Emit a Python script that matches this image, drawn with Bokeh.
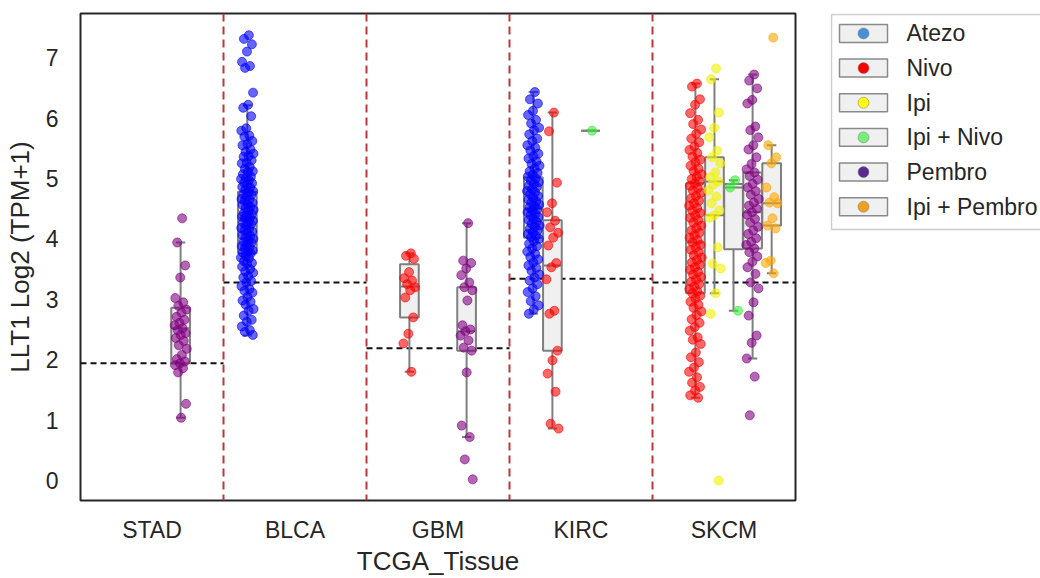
import numpy as np
from bokeh.plotting import figure
from bokeh.layouts import row
from bokeh.models import ColumnDataSource, Span, FixedTicker, Range1d
from bokeh.core.properties import value
from bokeh.embed import file_html
from bokeh.resources import INLINE

# ---------------- data ----------------
tissues = ["STAD", "BLCA", "GBM", "KIRC", "SKCM"]
drugs = ["Atezo", "Nivo", "Ipi", "Ipi + Nivo", "Pembro", "Ipi + Pembro"]
point_colors = ["#0000ff", "#ff0000", "#f2f200", "#33ee33", "#800080", "#ffa500"]
legend_colors = ["#4a90d9", "#ff0000", "#ffff00", "#77ee77", "#5b2a8e", "#f0a020"]

# TCGA reference level per tissue (black dashed lines)
tcga_ref = [1.94, 3.28, 2.19, 3.34, 3.28]

stad_pembro = [4.34, 3.94, 3.56, 3.36, 3.02, 2.95, 2.89, 2.83, 2.78, 2.71, 2.66, 2.61, 2.57,
               2.52, 2.49, 2.44, 2.41, 2.36, 2.31, 2.24, 2.18, 2.08, 2.01, 1.97, 1.94, 1.91,
               1.86, 1.79, 1.27, 1.04]

blca_atezo = [7.37, 7.31, 7.22, 7.10, 6.93, 6.86, 6.83, 6.42, 6.22, 6.17, 6.03,
              5.83, 5.79, 5.71, 5.69, 5.62, 5.57, 5.55, 5.48, 5.44, 5.41, 5.37, 5.36, 5.30,
              5.26, 5.25, 5.19, 5.16, 5.12, 5.11, 5.07, 5.03, 5.01,
              4.99, 4.97, 4.93, 4.92, 4.89, 4.86, 4.85, 4.81, 4.79, 4.77, 4.74, 4.73, 4.70,
              4.66, 4.65, 4.63, 4.60, 4.57, 4.56, 4.53, 4.51, 4.48, 4.47, 4.43, 4.41, 4.39,
              4.37, 4.35, 4.34, 4.30, 4.28, 4.27, 4.24, 4.22, 4.18, 4.17, 4.14, 4.12, 4.10,
              4.06, 4.05, 4.02, 4.00, 3.98, 3.95, 3.94, 3.90, 3.88, 3.86, 3.84, 3.81, 3.79,
              3.77, 3.76, 3.72, 3.69, 3.68, 3.63, 3.60, 3.59, 3.54, 3.50, 3.46, 3.44, 3.38,
              3.36, 3.30, 3.28, 3.22, 3.17, 3.14, 3.11, 3.04, 2.98, 2.96, 2.91, 2.84, 2.81,
              2.73, 2.66, 2.63, 2.55, 2.49, 2.46, 2.41]

gbm_nivo = [3.76, 3.72, 3.67, 3.45, 3.35, 3.31, 3.25, 3.20, 3.15, 3.03, 2.70, 2.43, 2.27, 1.80]

gbm_pembro = [4.26, 3.64, 3.60, 3.51, 3.40, 3.28, 3.20, 3.15, 2.98, 2.57, 2.50, 2.47, 2.40,
              2.32, 2.20, 2.15, 1.79, 0.91, 0.72, 0.35, 0.02]

kirc_atezo = [6.43, 6.31, 6.24, 6.12, 6.05, 5.97, 5.91, 5.84, 5.80, 5.73, 5.66, 5.62, 5.55,
              5.51, 5.46, 5.41, 5.37, 5.33, 5.28, 5.24, 5.21, 5.16, 5.12, 5.09, 5.06, 5.03,
              5.00, 4.97, 4.94, 4.91, 4.88, 4.86, 4.82, 4.79, 4.77, 4.74, 4.71, 4.68, 4.65,
              4.62, 4.60, 4.57, 4.54, 4.52, 4.49, 4.47, 4.44, 4.41, 4.39, 4.36, 4.33, 4.31,
              4.28, 4.25, 4.22, 4.20, 4.17, 4.14, 4.11, 4.08, 4.05, 4.03, 4.00, 3.96, 3.92,
              3.88, 3.84, 3.79, 3.75, 3.70, 3.66, 3.61, 3.56, 3.52, 3.47, 3.41, 3.36, 3.31,
              3.25, 3.18, 3.12, 3.05, 2.97, 2.90, 2.83, 2.76]

kirc_nivo = [6.09, 5.78, 4.93, 4.59, 4.44, 4.30, 4.19, 4.10, 4.02, 3.89, 3.60, 3.53, 3.33,
             2.81, 2.76, 2.15, 1.99, 1.77, 1.47, 0.94, 0.86]

kirc_ipinivo = [5.79]

skcm_nivo = [6.57, 6.52, 6.31, 6.22, 6.08, 5.97, 5.90, 5.81, 5.74, 5.66, 5.60, 5.53, 5.47,
             5.42, 5.36, 5.31, 5.27, 5.21, 5.16, 5.12, 5.07, 5.03, 4.99, 4.95, 4.92, 4.88,
             4.84, 4.80, 4.76, 4.71, 4.67, 4.63, 4.59, 4.55, 4.51, 4.47, 4.43, 4.39, 4.35,
             4.31, 4.27, 4.22, 4.18, 4.14, 4.10, 4.06, 4.02, 3.98, 3.94, 3.90, 3.86, 3.82,
             3.78, 3.73, 3.69, 3.65, 3.61, 3.57, 3.53, 3.49, 3.45, 3.41, 3.37, 3.33, 3.29,
             3.25, 3.21, 3.17, 3.13, 3.10, 3.06, 3.01, 2.96, 2.91, 2.86, 2.80, 2.74, 2.67,
             2.61, 2.54, 2.48, 2.37, 2.33, 2.26, 2.12, 2.04, 1.96, 1.87, 1.80, 1.71, 1.62,
             1.55, 1.49, 1.41, 1.37]

skcm_ipi = [6.82, 6.64, 6.09, 5.84, 5.68, 5.46, 5.35, 5.25, 5.10, 5.02, 4.95, 4.90, 4.80,
            4.70, 4.59, 4.47, 4.39, 4.35, 3.86, 3.59, 3.51, 3.10, 2.76, 0.00]

skcm_ipinivo = [4.97, 4.85, 2.81]

skcm_pembro = [6.72, 6.62, 6.49, 6.30, 6.24, 5.86, 5.80, 5.68, 5.55, 5.48, 5.35, 5.24, 5.15,
               5.10, 5.04, 4.98, 4.91, 4.85, 4.79, 4.73, 4.66, 4.60, 4.55, 4.50, 4.44, 4.40,
               4.33, 4.27, 4.20, 4.14, 4.08, 4.01, 3.95, 3.90, 3.84, 3.78, 3.71, 3.62, 3.53,
               3.42, 3.28, 3.18, 2.95, 2.73, 2.40, 2.28, 2.02, 1.72, 1.08]

skcm_ipipembro = [7.33, 5.55, 5.35, 5.25, 4.85, 4.69, 4.60, 4.59, 4.34, 4.22, 4.17, 3.64,
                  3.60, 3.43]

point_groups = [
    ("STAD", "Pembro", stad_pembro),
    ("BLCA", "Atezo", blca_atezo),
    ("GBM", "Nivo", gbm_nivo),
    ("GBM", "Pembro", gbm_pembro),
    ("KIRC", "Atezo", kirc_atezo),
    ("KIRC", "Nivo", kirc_nivo),
    ("KIRC", "Ipi + Nivo", kirc_ipinivo),
    ("SKCM", "Nivo", skcm_nivo),
    ("SKCM", "Ipi", skcm_ipi),
    ("SKCM", "Ipi + Nivo", skcm_ipinivo),
    ("SKCM", "Pembro", skcm_pembro),
    ("SKCM", "Ipi + Pembro", skcm_ipipembro),
]

# box statistics
box_tissue = ["STAD", "BLCA", "GBM", "GBM", "KIRC", "KIRC", "KIRC", "SKCM", "SKCM", "SKCM", "SKCM", "SKCM"]
box_drug = ["Pembro", "Atezo", "Nivo", "Pembro", "Atezo", "Nivo", "Ipi + Nivo", "Nivo", "Ipi",
            "Ipi + Nivo", "Pembro", "Ipi + Pembro"]
box_lo = [1.04, 2.40, 1.80, 0.72, 2.76, 0.86, 5.79, 1.37, 3.10, 2.81, 2.02, 3.43]
box_q1 = [1.94, 3.76, 2.70, 2.15, 4.02, 2.15, 5.79, 3.10, 4.39, 3.83, 3.84, 4.22]
box_med = [2.52, 4.35, 3.21, 2.47, 4.50, 3.56, 5.79, 3.94, 4.95, 4.85, 4.44, 4.59]
box_q3 = [2.86, 4.78, 3.58, 3.20, 5.02, 4.31, 5.79, 4.92, 5.35, 4.91, 5.10, 5.25]
box_hi = [3.94, 6.21, 3.76, 4.26, 6.43, 6.09, 5.79, 6.57, 6.64, 4.97, 6.72, 5.55]

# ---------------- layout helpers ----------------
n_h = len(drugs)
hue_w = 0.8 / n_h
def hue_x(t, d):
    return tissues.index(t) - 0.4 + hue_w * (drugs.index(d) + 0.5)

FONT = "Liberation Sans"
TXT = "#262626"
MAIN_W, LEG_W, H = 830, 210, 578
FRAME_TOP, FRAME_BOTTOM = 13, 502

p = figure(width=MAIN_W, height=H, x_range=Range1d(-0.5, 4.5), y_range=Range1d(-0.33, 7.73),
           output_backend="svg", toolbar_location=None, title=None,
           min_border_left=80, min_border_right=35, min_border_top=FRAME_TOP,
           min_border_bottom=H - FRAME_BOTTOM)
p.xgrid.visible = False
p.ygrid.visible = False
p.outline_line_color = "#262626"
p.outline_line_width = 2
p.background_fill_color = "white"
p.border_fill_color = "white"

# separators
for i in range(len(tissues) - 1):
    p.add_layout(Span(location=i + 0.5, dimension="height", line_color="#b8393b",
                      line_width=2, line_dash="8 5"))

# TCGA reference dashed lines
idx = np.arange(len(tissues))
p.segment(x0=idx - 0.5, x1=idx + 0.5, y0=tcga_ref, y1=tcga_ref, line_color="#111111",
          line_width=2, line_dash="6 4")

# boxes
bx = np.array([hue_x(t, d) for t, d in zip(box_tissue, box_drug)])
bw = hue_w * 0.98
cw = bw * 0.25
box_src = ColumnDataSource(dict(left=bx - bw / 2, right=bx + bw / 2, q1=box_q1, q3=box_q3,
                                med=box_med, lo=box_lo, hi=box_hi, x=bx,
                                cl=bx - cw, cr=bx + cw))
edge = "#7f7f7f"
p.segment(x0="x", x1="x", y0="q3", y1="hi", source=box_src, line_color=edge, line_width=2)
p.segment(x0="x", x1="x", y0="q1", y1="lo", source=box_src, line_color=edge, line_width=2)
p.segment(x0="cl", x1="cr", y0="hi", y1="hi", source=box_src, line_color=edge, line_width=2)
p.segment(x0="cl", x1="cr", y0="lo", y1="lo", source=box_src, line_color=edge, line_width=2)
p.quad(left="left", right="right", bottom="q1", top="q3", source=box_src,
       fill_color="#f0f0f0", line_color=edge, line_width=2)
p.segment(x0="left", x1="right", y0="med", y1="med", source=box_src, line_color=edge, line_width=2)

# strip points with deterministic jitter
xs, ys, cs = [], [], []
for t, d, vals in point_groups:
    cx = hue_x(t, d)
    col = point_colors[drugs.index(d)]
    for k, v in enumerate(vals):
        j = (((k + 1) * 0.6180339887) % 1.0 - 0.5) * 0.09
        xs.append(cx + j)
        ys.append(v)
        cs.append(col)
p.scatter(x=xs, y=ys, size=9, fill_color=cs, line_color=cs, fill_alpha=0.6, line_alpha=0.6)

# axes
p.yaxis.ticker = FixedTicker(ticks=list(range(8)))
p.xaxis.ticker = FixedTicker(ticks=list(range(len(tissues))))
p.xaxis.major_label_overrides = {i: t for i, t in enumerate(tissues)}
for ax in (p.xaxis[0], p.yaxis[0]):
    ax.axis_line_color = None
    ax.major_tick_line_color = None
    ax.minor_tick_line_color = None
    ax.major_label_text_font = FONT
    ax.major_label_text_font_size = "23px"
    ax.major_label_text_color = TXT
    ax.axis_label_text_font = FONT
    ax.axis_label_text_font_size = "26px"
    ax.axis_label_text_font_style = "normal"
    ax.axis_label_text_color = TXT
p.yaxis.axis_label = "LLT1 Log2 (TPM+1)"
p.xaxis.axis_label = "TCGA_Tissue"
p.yaxis.major_label_standoff = 16
p.yaxis.axis_label_standoff = 8
p.xaxis.major_label_standoff = 10
p.xaxis.axis_label_standoff = 0

# ---------------- legend panel (page-pixel coordinates over the aligned frame) ----------------
lg = figure(width=LEG_W, height=H, x_range=Range1d(0, LEG_W),
            y_range=Range1d(FRAME_BOTTOM, FRAME_TOP),
            output_backend="svg", toolbar_location=None, title=None,
            x_axis_type=None, y_axis_type=None, min_border=0,
            min_border_top=FRAME_TOP, min_border_bottom=H - FRAME_BOTTOM)
lg.xgrid.visible = False
lg.ygrid.visible = False
lg.outline_line_color = None
lg.background_fill_color = "white"
lg.border_fill_color = "white"

n = len(drugs)
row_y = 33 + 34.8 * np.arange(n)
lg.quad(left=[1], right=[LEG_W + 20], top=[14], bottom=[230], fill_color="white",
        line_color="#cccccc", line_width=1.5)
lg.quad(left=np.full(n, 9.0), right=np.full(n, 57.0), top=row_y - 9, bottom=row_y + 9,
        fill_color="#f0f0f0", line_color="#8a8a8a", line_width=1.5)
lg.scatter(x=np.full(n, 33.0), y=row_y, size=11, fill_color=legend_colors,
           line_color="#777777", line_width=0.5)
lg.text(x=np.full(n, 76.0), y=row_y, text=drugs, text_font=value(FONT),
        text_font_size=value("23px"), text_color=TXT, text_baseline="middle",
        text_align="left")

layout = row(p, lg, spacing=0)
open("out.html", "w").write(file_html(layout, INLINE))
